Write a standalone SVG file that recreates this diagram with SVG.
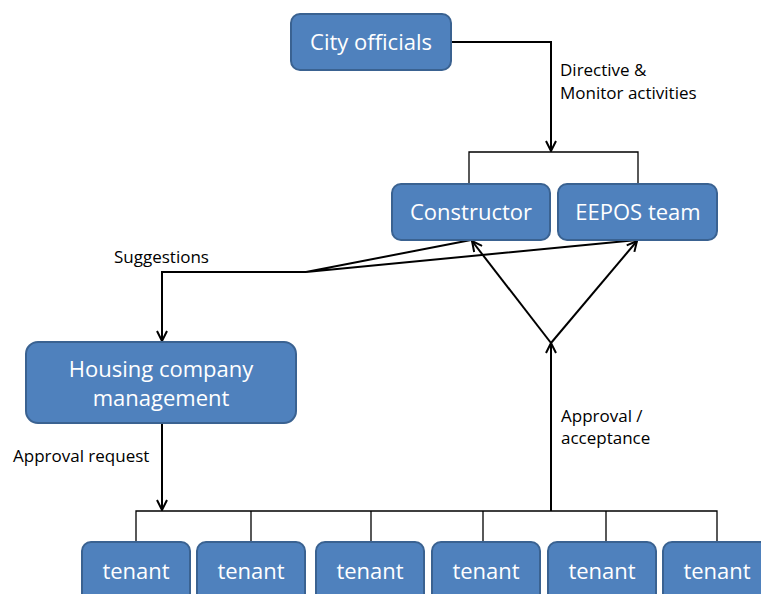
<svg xmlns="http://www.w3.org/2000/svg" width="761" height="594" viewBox="0 0 761 594">
  <style>
    .box { fill: #4F81BD; stroke: #3A6291; stroke-width: 2; }
    .bt { font-family: "Open Sans", "Liberation Sans", sans-serif; font-size: 22px; fill: #FFFFFF; text-anchor: middle; }
    .lbl { font-family: "Open Sans", "Liberation Sans", sans-serif; font-size: 17px; fill: #000000; }
    .arr { fill: none; stroke: #000000; stroke-width: 2; }
    .bus { fill: none; stroke: #000000; stroke-width: 1.3; }
  </style>
  <defs>
    <marker id="ah" viewBox="0 0 12 12" refX="11" refY="6" markerWidth="12" markerHeight="12" markerUnits="userSpaceOnUse" orient="auto">
      <path d="M1,1 L11,6 L1,11" fill="none" stroke="#000000" stroke-width="2"/>
    </marker>
  </defs>
  <rect width="761" height="594" fill="#FFFFFF"/>

  <g id="connectors">
    <path class="arr" d="M451,42 H551 V151" marker-end="url(#ah)"/>
    <path class="bus" d="M469,183 V152 H638 V183"/>
    <path class="arr" d="M471,240 L306,272 L637,240"/>
    <path class="arr" d="M306,272 H162 V341" marker-end="url(#ah)"/>
    <path class="arr" d="M162,424 V510" marker-end="url(#ah)"/>
    <path class="bus" d="M136,541 V511 H717 V541"/>
    <path class="bus" d="M251,511 V541 M371,511 V541 M483,511 V541 M606,511 V541"/>
    <path class="arr" d="M551,511 V343" marker-end="url(#ah)"/>
    <path class="arr" d="M551,343 L472,241" marker-end="url(#ah)"/>
    <path class="arr" d="M551,343 L637,241" marker-end="url(#ah)"/>
  </g>

  <g id="labels">
    <text class="lbl" x="560" y="76">Directive &amp;</text>
    <text class="lbl" x="560" y="99">Monitor activities</text>
    <text class="lbl" x="114" y="263">Suggestions</text>
    <text class="lbl" x="561" y="422">Approval /</text>
    <text class="lbl" x="561" y="444">acceptance</text>
    <text class="lbl" x="13" y="462">Approval request</text>
  </g>

  <g id="city-officials">
    <rect class="box" x="291" y="14" width="160" height="56" rx="9"/>
    <text class="bt" x="371" y="50">City officials</text>
  </g>
  <g id="constructor">
    <rect class="box" x="392" y="184" width="158" height="56" rx="9"/>
    <text class="bt" x="471" y="220">Constructor</text>
  </g>
  <g id="eepos-team">
    <rect class="box" x="558" y="184" width="159" height="56" rx="9"/>
    <text class="bt" x="638" y="220">EEPOS team</text>
  </g>
  <g id="housing-company">
    <rect class="box" x="26" y="342" width="270" height="81" rx="12"/>
    <text class="bt" x="161" y="377">Housing company</text>
    <text class="bt" x="161" y="406">management</text>
  </g>
  <g id="tenant-1">
    <rect class="box" x="82" y="542" width="108" height="62" rx="9"/>
    <text class="bt" x="136" y="579">tenant</text>
  </g>
  <g id="tenant-2">
    <rect class="box" x="197" y="542" width="108" height="62" rx="9"/>
    <text class="bt" x="251" y="579">tenant</text>
  </g>
  <g id="tenant-3">
    <rect class="box" x="316" y="542" width="108" height="62" rx="9"/>
    <text class="bt" x="370" y="579">tenant</text>
  </g>
  <g id="tenant-4">
    <rect class="box" x="432" y="542" width="108" height="62" rx="9"/>
    <text class="bt" x="486" y="579">tenant</text>
  </g>
  <g id="tenant-5">
    <rect class="box" x="548" y="542" width="108" height="62" rx="9"/>
    <text class="bt" x="602" y="579">tenant</text>
  </g>
  <g id="tenant-6">
    <rect class="box" x="663" y="542" width="108" height="62" rx="9"/>
    <text class="bt" x="717" y="579">tenant</text>
  </g>
</svg>
